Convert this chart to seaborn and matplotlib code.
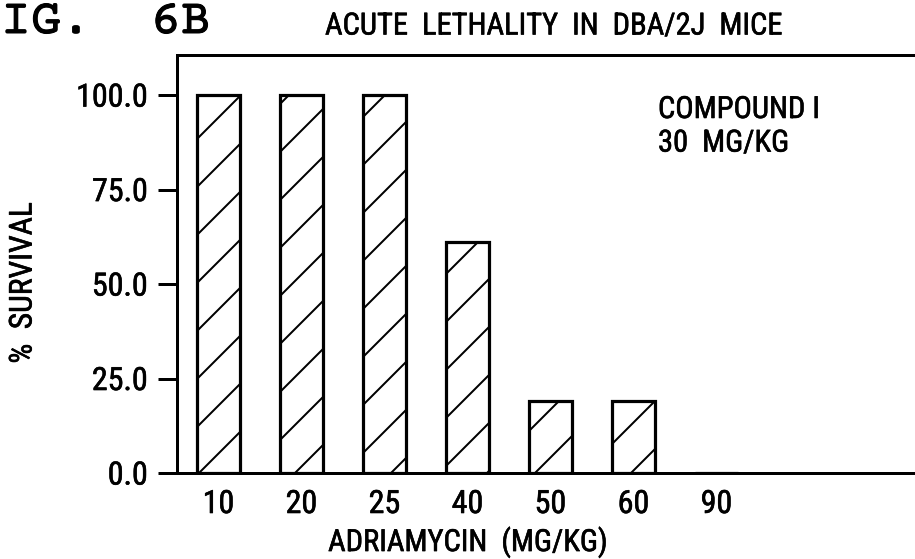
import pandas as pd
import matplotlib
matplotlib.use("Agg")
import matplotlib.pyplot as plt
import matplotlib.patheffects as pe
import seaborn as sns

# ── data ──────────────────────────────────────────────────────────────────────
doses = ["10", "20", "25", "40", "50", "60", "90"]
survival = [100.0, 100.0, 100.0, 61.0, 19.0, 19.0, 0.0]
y_ticks = [0, 25, 50, 75, 100]

title = "ACUTE  LETHALITY  IN  DBA/2J  MICE"
fig_label = "FIG.  6B"
note = "COMPOUND I\n30  MG/KG"
x_label = "ADRIAMYCIN  (MG/KG)"
y_label = "%  SURVIVAL"

# ── style ─────────────────────────────────────────────────────────────────────
DPI = 144
W, H = 915, 559


def pt(px):
    return px * 72 / DPI


sns.set_theme(style="ticks")
plt.rcParams["font.family"] = ["Roboto Condensed", "DejaVu Sans"]
plt.rcParams.update({
    "text.color": "black",
    "axes.labelcolor": "black",
    "xtick.color": "black",
    "ytick.color": "black",
    "hatch.linewidth": pt(2),
    "hatch.color": "black",
})
# slightly heavier strokes, like the scanned lettering
heavy = [pe.withStroke(linewidth=pt(0.6), foreground="black")]

df = pd.DataFrame({"dose": doses, "survival": survival})

fig = plt.figure(figsize=(W / DPI, H / DPI), dpi=DPI)
ax = fig.add_axes([177 / W, 1 - 473 / H, 747 / W, (473 - 55) / H])

sns.barplot(data=df, x="dose", y="survival", order=doses, width=0.52,
            color="white", edgecolor="black", linewidth=pt(3.2), hatch="/",
            errorbar=None, ax=ax)

ax.set_xlim(-0.5, 8.5)
ax.set_ylim(0, 110.6)
ax.set_yticks(y_ticks)
ax.set_yticklabels([f"{v:.1f}" for v in y_ticks], fontsize=pt(32))
ax.tick_params(axis="y", direction="out", length=pt(19), width=pt(3), pad=pt(10))
ax.tick_params(axis="x", length=0, pad=pt(17), labelsize=pt(32))
for lab in ax.get_xticklabels() + ax.get_yticklabels():
    lab.set_path_effects(heavy)

for side in ["left", "top", "bottom"]:
    ax.spines[side].set_linewidth(pt(3))
    ax.spines[side].set_color("black")
ax.spines["right"].set_visible(False)

ax.set_xlabel(x_label, fontsize=pt(30.5), path_effects=heavy)
ax.xaxis.label.set_va("center")
ax.xaxis.set_label_coords((468 - 177) / 747, (473 - 542) / 418)
ax.set_ylabel(y_label, fontsize=pt(31.5), path_effects=heavy)
ax.yaxis.label.set_va("center")
ax.yaxis.set_label_coords((23 - 177) / 747, (473 - 283) / 418)

fig.text(554 / W, 1 - 26 / H, title, ha="center", va="center",
         fontsize=pt(30.5), path_effects=heavy)
fig.text(658 / W, 1 - 95 / H, note, ha="left", va="top", fontsize=pt(30.5),
         linespacing=1.2, path_effects=heavy)
fig.text(211 / W, 1 - 33 / H, fig_label, ha="right", va="baseline",
         fontsize=pt(50), family="Courier Prime",
         path_effects=[pe.withStroke(linewidth=pt(1.0), foreground="black")])

fig.savefig("out.png", dpi=DPI)
